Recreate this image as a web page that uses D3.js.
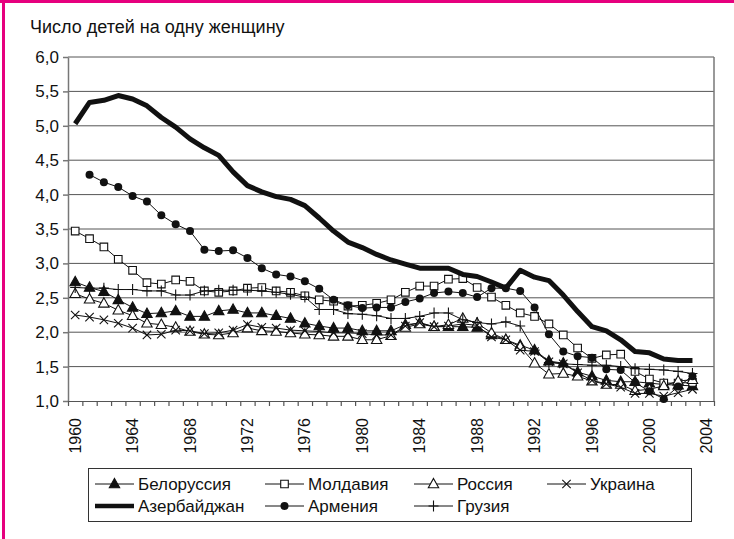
<!DOCTYPE html>
<html>
<head>
<meta charset="utf-8">
<script src="https://cdn.jsdelivr.net/npm/d3@7"></script>
<style>
  body { margin: 0; background: #fff; }
  svg text { font-family: "Liberation Sans", Arial, sans-serif; fill: #111; }
</style>
</head>
<body>
<svg id="chart" width="734" height="539"></svg>
<script>
// years on the axis (one category more than the data)
var categories = d3.range(1960, 2005);
var years = d3.range(1960, 2004);
var yTicks = [1.0, 1.5, 2.0, 2.5, 3.0, 3.5, 4.0, 4.5, 5.0, 5.5, 6.0];
var xLabels = [1960, 1964, 1968, 1972, 1976, 1980, 1984, 1988, 1992, 1996, 2000, 2004];

var belarus = [2.73,2.65,2.59,2.47,2.36,2.27,2.28,2.31,2.23,2.23, 2.31,2.33,2.28,2.28,2.24,2.20,2.13,2.09,2.06,2.06,
  2.02,2.02,2.02,2.11,2.13,2.08,2.08,2.08,2.07,1.96, 1.89,1.81,1.74,1.58,1.55,1.42,1.36,1.30,1.28,1.28, 1.26,1.24,1.23,1.22];
var moldova = [3.47,3.36,3.24,3.06,2.90,2.72,2.70,2.76,2.74,2.60, 2.58,2.60,2.64,2.65,2.60,2.58,2.53,2.47,2.45,2.38,
  2.39,2.42,2.47,2.58,2.67,2.67,2.77,2.78,2.65,2.51, 2.39,2.28,2.23,2.12,1.96,1.77,1.62,1.67,1.68,1.43, 1.32,1.26,1.26,1.27];
var russia = [2.56,2.48,2.42,2.32,2.24,2.13,2.11,2.07,2.01,1.97, 1.96,1.99,2.06,2.02,2.01,1.99,1.97,1.96,1.94,1.94,
  1.89,1.89,1.95,2.07,2.12,2.08,2.11,2.20,2.13,1.99, 1.89,1.79,1.55,1.39,1.40,1.36,1.29,1.24,1.24,1.15, 1.17,1.22,1.29,1.31];
var ukraine = [2.25,2.22,2.18,2.13,2.06,1.96,1.97,2.03,2.02,1.98, 1.99,2.03,2.11,2.07,2.06,2.03,2.02,2.01,1.99,1.99,
  1.98,1.96,1.96,2.09,2.14,2.08,2.09,2.12,2.10,1.93, 1.89,1.74,1.72,1.57,1.54,1.41,1.30,1.25,1.20,1.11, 1.11,1.07,1.12,1.17];
var azerbaijan = [5.03,5.34,5.37,5.44,5.39,5.29,5.12,4.98,4.81,4.68, 4.57,4.33,4.13,4.04,3.97,3.93,3.84,3.66,3.47,3.31,
  3.23,3.13,3.05,2.99,2.93,2.93,2.93,2.84,2.81,2.73, 2.64,2.90,2.80,2.75,2.54,2.30,2.08,2.02,1.89,1.72, 1.70,1.61,1.59,1.59];
var armenia = [null,4.29,4.18,4.11,3.98,3.90,3.70,3.57,3.47,3.20, 3.18,3.19,3.08,2.93,2.84,2.81,2.74,2.63,2.47,2.39,
  2.35,2.36,2.36,2.44,2.49,2.57,2.59,2.57,2.51,2.64, 2.64,2.60,2.36,1.97,1.72,1.65,1.63,1.46,1.45,1.27, 1.14,1.03,1.21,1.36];
var georgia = [2.65,2.64,2.64,2.62,2.62,2.60,2.60,2.54,2.54,2.60, 2.61,2.61,2.61,2.60,2.58,2.55,2.51,2.33,2.33,2.27,
  2.26,2.24,2.20,2.20,2.23,2.28,2.28,2.18,2.14,2.12, 2.15,2.09,1.74,1.56,1.54,1.53,1.52,1.52,1.50,1.47, 1.46,1.45,1.43,1.40];

var series = [
  { name: "Белоруссия", values: belarus, marker: "triFill" },
  { name: "Молдавия", values: moldova, marker: "square" },
  { name: "Россия", values: russia, marker: "triOpen" },
  { name: "Украина", values: ukraine, marker: "cross" },
  { name: "Азербайджан", values: azerbaijan, marker: "none", thick: true },
  { name: "Армения", values: armenia, marker: "circle" },
  { name: "Грузия", values: georgia, marker: "plus" }
];

var svg = d3.select("#chart");
var pLeft = 68, pRight = 714, pTop = 57, pBottom = 401;

svg.append("rect").attr("width", 734).attr("height", 539).attr("fill", "#fff");
// pink frame bits from the page
svg.append("rect").attr("x", 0).attr("y", 0).attr("width", 734).attr("height", 3).attr("fill", "#e6007e");
svg.append("rect").attr("x", 2).attr("y", 0).attr("width", 3).attr("height", 539).attr("fill", "#e6007e");

var x = d3.scaleBand().domain(categories).range([pLeft, pRight]).padding(0);
var xLin = d3.scaleLinear().domain([1960, 2005]).range([pLeft, pRight]);
var y = d3.scaleLinear().domain([1, 6]).range([pBottom, pTop]);
function cx(yr) { return x(yr) + x.bandwidth() / 2; }

svg.append("text").attr("x", 30).attr("y", 33).attr("font-size", 18).text("Число детей на одну женщину");

// grid
svg.append("g").selectAll("line").data(yTicks.filter(function(d) { return d > 1; })).enter().append("line")
  .attr("x1", pLeft).attr("x2", pRight)
  .attr("y1", function(d) { return y(d); }).attr("y2", function(d) { return y(d); })
  .attr("stroke", "#555").attr("stroke-width", 1);
svg.append("line").attr("x1", pRight).attr("x2", pRight).attr("y1", pTop).attr("y2", pBottom)
  .attr("stroke", "#777").attr("stroke-width", 1.5);

// y axis
var yAxis = svg.append("g").attr("transform", "translate(" + pLeft + ",0)")
  .call(d3.axisLeft(y).tickValues(yTicks).tickSize(5).tickSizeOuter(0).tickPadding(4)
    .tickFormat(function(d) { return d3.format(".1f")(d).replace(".", ","); }));
yAxis.selectAll("text").attr("font-size", 17);
yAxis.selectAll("path, line").attr("stroke", "#777").attr("stroke-width", 1.5);

// x axis: ticks between years, labels at the middle of each year
var xTicks = svg.append("g").attr("transform", "translate(0," + pBottom + ")")
  .call(d3.axisBottom(xLin).tickValues(d3.range(1960, 2006)).tickSize(5).tickSizeOuter(0).tickFormat(""));
xTicks.selectAll("path, line").attr("stroke", "#555").attr("stroke-width", 1.2);

var xAxis = svg.append("g").attr("transform", "translate(0," + pBottom + ")")
  .call(d3.axisBottom(x).tickValues(xLabels).tickSize(0));
xAxis.select(".domain").remove();
xAxis.selectAll("text")
  .attr("font-size", 16)
  .attr("transform", "rotate(-90)")
  .attr("x", -17).attr("y", 0).attr("dy", "0.35em")
  .attr("text-anchor", "end");

// markers
function markerPath(type) {
  if (type === "triFill" || type === "triOpen") return "M0,-5.6L5.2,3.8L-5.2,3.8Z";
  if (type === "square") return "M-3.8,-3.8H3.8V3.8H-3.8Z";
  if (type === "cross") return "M-4.2,-4.2L4.2,4.2M4.2,-4.2L-4.2,4.2";
  if (type === "plus") return "M-5,0H5M0,-5.5V5.5";
  return null;
}
function drawMarker(g, type, px, py) {
  if (type === "circle") {
    g.append("circle").attr("cx", px).attr("cy", py).attr("r", 4).attr("fill", "#111");
    return;
  }
  var p = markerPath(type);
  if (!p) return;
  var m = g.append("path").attr("d", p).attr("transform", "translate(" + px + "," + py + ")")
    .attr("stroke", "#111").attr("stroke-width", 1.1);
  if (type === "triFill") m.attr("fill", "#111");
  else if (type === "square" || type === "triOpen") m.attr("fill", "#fff");
  else m.attr("fill", "none");
}

var line = d3.line()
  .defined(function(d) { return d.v != null; })
  .x(function(d) { return cx(d.year); })
  .y(function(d) { return y(d.v); });

series.forEach(function(s) {
  var pts = years.map(function(yr, i) { return { year: yr, v: s.values[i] }; });
  var g = svg.append("g");
  g.append("path").datum(pts).attr("d", line).attr("fill", "none")
    .attr("stroke", "#111").attr("stroke-width", s.thick ? 5 : 1)
    .attr("stroke-linejoin", "round");
  pts.filter(function(d) { return d.v != null; }).forEach(function(d) {
    drawMarker(g, s.marker, cx(d.year), y(d.v));
  });
});

// legend
svg.append("rect").attr("x", 88.5).attr("y", 468.5).attr("width", 603).attr("height", 53)
  .attr("fill", "none").attr("stroke", "#333").attr("stroke-width", 1);
var legPos = [[95, 484], [265, 484], [414, 484], [547, 484], [95, 506], [265, 506], [414, 506]];
series.forEach(function(s, i) {
  var lx = legPos[i][0], ly = legPos[i][1];
  var g = svg.append("g");
  g.append("line").attr("x1", lx).attr("x2", lx + 39).attr("y1", ly).attr("y2", ly)
    .attr("stroke", "#111").attr("stroke-width", s.thick ? 4.5 : 1);
  drawMarker(g, s.marker, lx + 19.5, ly);
  g.append("text").attr("x", lx + 43).attr("y", ly).attr("dy", "0.36em").attr("font-size", 17).text(s.name);
});
</script>
</body>
</html>
